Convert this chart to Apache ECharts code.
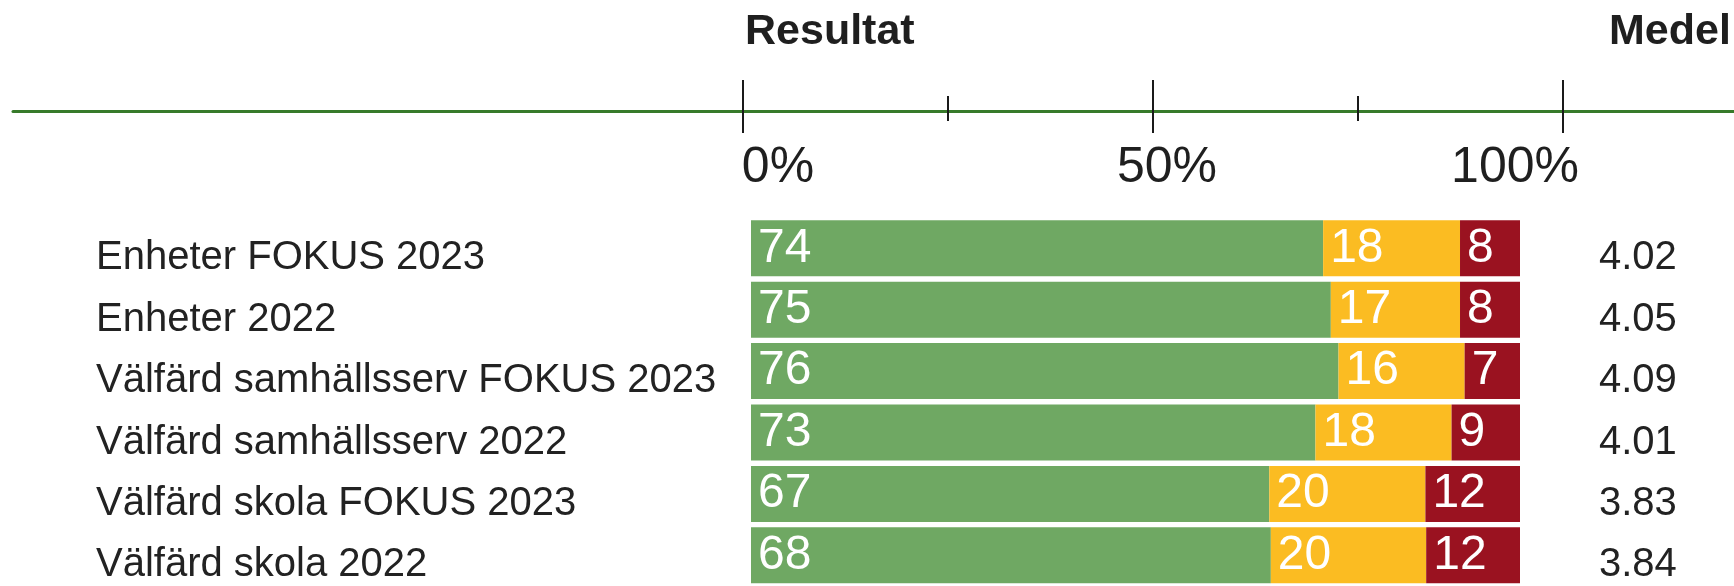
<!DOCTYPE html>
<html>
<head>
<meta charset="utf-8">
<script src="https://cdn.jsdelivr.net/npm/echarts@6/dist/echarts.min.js"></script>
<style>
html,body{margin:0;padding:0;background:#fff;}
#chart{width:1734px;height:586px;}
</style>
</head>
<body>
<div id="chart"></div>
<script>
// ---- data ----
var categories = [
  'Enheter FOKUS 2023',
  'Enheter 2022',
  'Välfärd samhällsserv FOKUS 2023',
  'Välfärd samhällsserv 2022',
  'Välfärd skola FOKUS 2023',
  'Välfärd skola 2022'
];
var positive = [74.4, 75.4, 76.4, 73.4, 67.4, 67.6];
var neutral  = [17.8, 16.8, 16.4, 17.7, 20.3, 20.2];
var negative = [7.8, 7.8, 7.2, 8.9, 12.3, 12.2];
var medel = ['4.02', '4.05', '4.09', '4.01', '3.83', '3.84'];
var majorTicks = [0, 50, 100];
var minorTicks = [25, 75];

// ---- layout ----
var FONT = "'Liberation Sans', Arial, sans-serif";
var chart = echarts.init(document.getElementById('chart'), null, {renderer: 'canvas'});

function barLabel() {
  return {
    show: true,
    position: 'insideLeft',
    distance: 7,
    color: '#ffffff',
    fontFamily: FONT,
    fontSize: 48,
    formatter: function (p) { return Math.round(p.value); }
  };
}

function shiftedLabel(v) { return '{a|' + v + '}'; }
var shiftedRich = {a: {fontFamily: FONT, fontSize: 40, color: '#222222', padding: [20, 0, 0, 0]}};

var AX_MIN = -89.02, AX_MAX = 120.85;

var option = {
  backgroundColor: '#ffffff',
  animation: false,
  title: [
    {text: 'Resultat', left: 740, top: 6,
     textStyle: {fontFamily: FONT, fontSize: 43, fontWeight: 'bold', color: '#1f1f1f'}},
    {text: 'Medel', left: 1604, top: 6,
     textStyle: {fontFamily: FONT, fontSize: 43, fontWeight: 'bold', color: '#1f1f1f'}}
  ],
  grid: [
    {left: 751, width: 769, top: 217.6, height: 376.8, containLabel: false},
    {left: 13, right: 0, top: 80, height: 53, containLabel: false}
  ],
  xAxis: [
    {gridIndex: 0, type: 'value', min: 0, max: 100, show: false},
    // major ticks crossing the line
    {gridIndex: 1, type: 'value', position: 'top', min: AX_MIN, max: AX_MAX,
     axisLine: {show: false, onZero: false}, splitLine: {show: false}, axisLabel: {show: false},
     axisTick: {show: true, inside: true, length: 53, customValues: majorTicks,
                lineStyle: {color: '#1a1a1a', width: 2}}},
    // minor ticks
    {gridIndex: 1, type: 'value', position: 'bottom', offset: -12, min: AX_MIN, max: AX_MAX,
     axisLine: {show: false, onZero: false}, splitLine: {show: false}, axisLabel: {show: false},
     axisTick: {show: true, inside: true, length: 25, customValues: minorTicks,
                lineStyle: {color: '#1a1a1a', width: 2}}},
    // green axis line + labels
    {gridIndex: 1, type: 'value', position: 'bottom', offset: -22, min: AX_MIN, max: AX_MAX,
     axisLine: {show: true, onZero: false, lineStyle: {color: '#377a2a', width: 3}},
     axisTick: {show: false}, splitLine: {show: false},
     axisLabel: {show: true, customValues: majorTicks, margin: 32,
       fontFamily: FONT, fontSize: 50, color: '#1f1f1f',
       formatter: function (v) { return '{p' + v + '|' + v + '%}'; },
       rich: {
         p0: {fontFamily: FONT, fontSize: 50, color: '#1f1f1f', padding: [0, 0, 0, 70]},
         p50: {fontFamily: FONT, fontSize: 50, color: '#1f1f1f', padding: [0, 0, 0, 28]},
         p100: {fontFamily: FONT, fontSize: 50, color: '#1f1f1f', padding: [0, 96, 0, 0]}
       }}}
  ],
  yAxis: [
    {gridIndex: 0, type: 'category', data: categories, inverse: true, position: 'left',
     axisLine: {show: false}, axisTick: {show: false}, splitLine: {show: false},
     axisLabel: {show: true, align: 'left', margin: 655, fontFamily: FONT, fontSize: 40,
                 color: '#222222', formatter: shiftedLabel, rich: shiftedRich}},
    {gridIndex: 0, type: 'category', data: medel, inverse: true, position: 'right',
     axisLine: {show: false}, axisTick: {show: false}, splitLine: {show: false},
     axisLabel: {show: true, align: 'left', margin: 79, fontFamily: FONT, fontSize: 40,
                 color: '#222222', formatter: shiftedLabel, rich: shiftedRich}},
    {gridIndex: 1, type: 'value', min: 0, max: 1, show: false}
  ],
  series: [
    {type: 'bar', name: 'Positiv', stack: 'r', xAxisIndex: 0, yAxisIndex: 0, data: positive,
     barWidth: 56, itemStyle: {color: '#6fa863'}, label: barLabel()},
    {type: 'bar', name: 'Neutral', stack: 'r', xAxisIndex: 0, yAxisIndex: 0, data: neutral,
     barWidth: 56, itemStyle: {color: '#fbbc22'}, label: barLabel()},
    {type: 'bar', name: 'Negativ', stack: 'r', xAxisIndex: 0, yAxisIndex: 0, data: negative,
     barWidth: 56, itemStyle: {color: '#9a1220'}, label: barLabel()}
  ]
};
chart.setOption(option);
</script>
</body>
</html>
